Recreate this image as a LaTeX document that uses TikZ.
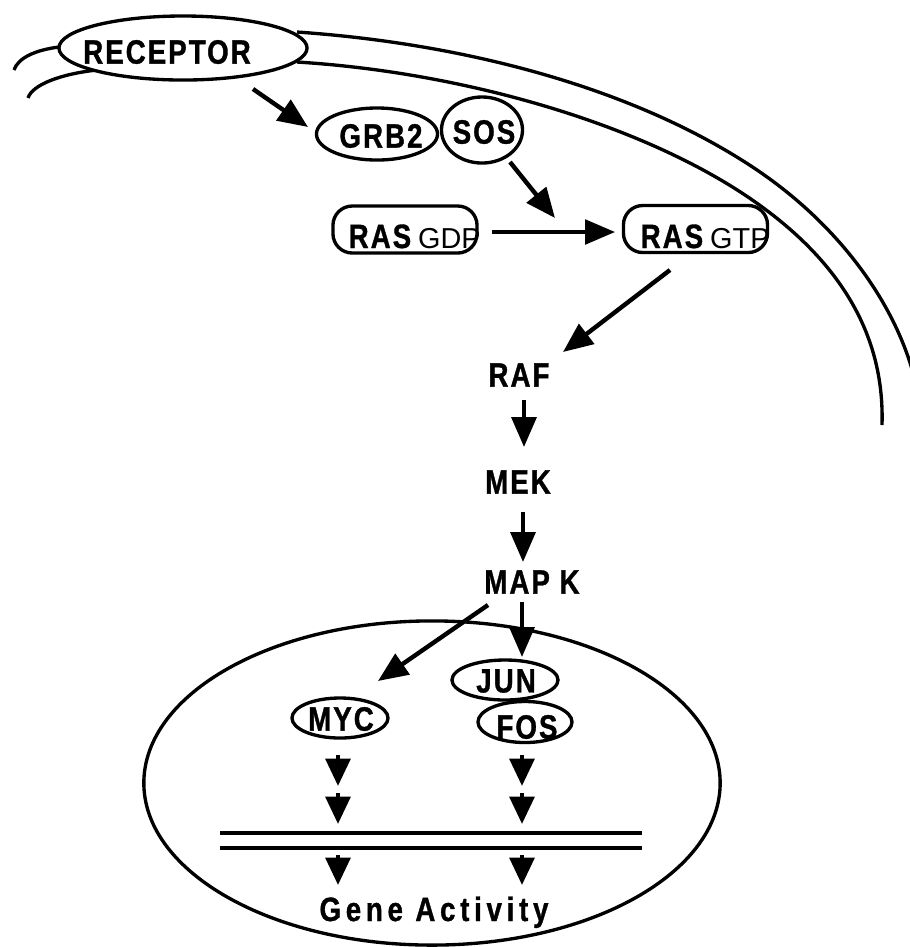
\documentclass[tikz,border=0pt]{standalone}
\usepackage{fontspec}
\usetikzlibrary{shapes.geometric,arrows.meta}
\newfontfamily\lblfont{Liberation Sans Bold}[FakeStretch=0.82,LetterSpace=6,FakeBold=1]
\newfontfamily\subfont{Liberation Sans}
\tikzset{
  lbl/.style={font=\lblfont\fontsize{9.6}{11}\selectfont, inner sep=0pt},
  oval/.style={draw, ellipse, line width=0.95pt, inner sep=0pt},
  rasbox/.style={draw, rounded corners=5.5pt, line width=0.95pt,
                 minimum width=1.44cm, minimum height=0.47cm, inner sep=0pt},
  memb/.style={line width=0.95pt},
  arr/.style={line width=1.25pt, -{Triangle[length=8.5pt,width=7pt]}},
  tarr/.style={line width=0.95pt, -{Triangle[length=8.5pt,width=7pt]}},
  sarr/.style={line width=1.25pt, -{Triangle[length=7.8pt,width=7pt]}}
}
\newcommand\subtxt[1]{{\subfont\fontsize{8.2}{9}\selectfont #1}}
\begin{document}
\begin{tikzpicture}[x=0.01cm,y=-0.01cm]
\useasboundingbox (0,0) rectangle (910,947);

% cell membrane (two lines) running from the receptor to the right edge
\draw[memb] (297,32) .. controls (470,44) and (640,90) .. (760,172)
            .. controls (850,234) and (905,320) .. (918,395);
\draw[memb] (297,62) .. controls (460,72) and (635,122) .. (745,195)
            .. controls (835,255) and (885,330) .. (882,425);
\draw[memb] (59,47) .. controls (35,50) and (18,58) .. (14,70);
\draw[memb] (97,70) .. controls (60,74) and (32,85) .. (28,98);

% receptor
\node[oval, minimum width=2.48cm, minimum height=0.64cm, fill=white] (rec) at (183,48) {};
\node[lbl] (rect) at (167,52) {RECEPTOR};

% adaptor complex
\node[oval, minimum width=1.21cm, minimum height=0.52cm] (grb) at (377,134) {};
\node[lbl] (grbt) at (381,136) {GRB2};
\node[oval, minimum width=0.81cm, minimum height=0.66cm] (sos) at (482,130) {};
\node[lbl] (sost) at (484,132) {SOS};

% RAS states
\node[rasbox] (gdp) at (405,229.5) {};
\node[lbl, anchor=base west] (gdpt) at (348,248) {RAS\hspace{2pt}\subtxt{GDP}};
\node[rasbox] (gtp) at (695.5,229) {};
\node[lbl, anchor=base west] (gtpt) at (640,248) {RAS\hspace{2pt}\subtxt{GTP}};

% kinase cascade
\node[lbl] (raf) at (519,375) {RAF};
\node[lbl] (mek) at (518,482) {MEK};
\node[lbl] (mapk) at (532,582) {MAP K};

% nucleus
\node[draw, ellipse, line width=0.95pt, minimum width=5.76cm, minimum height=3.24cm] (nuc) at (432,783) {};
\node[oval, minimum width=0.96cm, minimum height=0.40cm] (myc) at (340,718) {};
\node[lbl] (myct) at (341,719) {MYC};
\node[oval, minimum width=1.06cm, minimum height=0.40cm] (jun) at (505,680) {};
\node[lbl] (junt) at (506,681) {JUN};
\node[oval, minimum width=0.94cm, minimum height=0.41cm] (fos) at (525,722) {};
\node[lbl] (fost) at (527,727) {FOS};

% DNA
\coordinate (dnaA1) at (220,833); \coordinate (dnaA2) at (642,833);
\coordinate (dnaB1) at (220,848); \coordinate (dnaB2) at (642,848);
\draw[line width=1.15pt] (dnaA1) -- (dnaA2);
\draw[line width=1.15pt] (dnaB1) -- (dnaB2);
\node[lbl, anchor=base] (gene) at (434,921) {\addfontfeature{LetterSpace=14}Gene Activity};

% arrow end points
\coordinate (a1s) at (253,89);  \coordinate (a1e) at (308,127);
\coordinate (a2s) at (510,162); \coordinate (a2e) at (555,218);
\coordinate (a3s) at (492,232); \coordinate (a3e) at (615,232);
\coordinate (a4s) at (670,270); \coordinate (a4e) at (563,352);
\coordinate (a5s) at (524,400); \coordinate (a5e) at (524,447);
\coordinate (a6s) at (523,512); \coordinate (a6e) at (523,562);
\coordinate (a7s) at (488,605); \coordinate (a7e) at (378,681);
\coordinate (a8s) at (522,602); \coordinate (a8e) at (522,657);

\draw[arr]  (a1s) -- (a1e);
\draw[arr]  (a2s) -- (a2e);
\draw[tarr] (a3s) -- (a3e);
\draw[arr]  (a4s) -- (a4e);
\draw[arr]  (a5s) -- (a5e);
\draw[arr]  (a6s) -- (a6e);
\draw[arr]  (a7s) -- (a7e);
\draw[arr]  (a8s) -- (a8e);

% short arrows down to the genes
\foreach \x/\c in {338/L, 522/R}{
  \coordinate (p1\c) at (\x,755); \coordinate (q1\c) at (\x,786);
  \coordinate (p2\c) at (\x,793); \coordinate (q2\c) at (\x,824);
  \coordinate (p3\c) at (\x,855); \coordinate (q3\c) at (\x,885);
  \draw[sarr] (p1\c) -- (q1\c);
  \draw[sarr] (p2\c) -- (q2\c);
  \draw[sarr] (p3\c) -- (q3\c);
}
\end{tikzpicture}
\end{document}
